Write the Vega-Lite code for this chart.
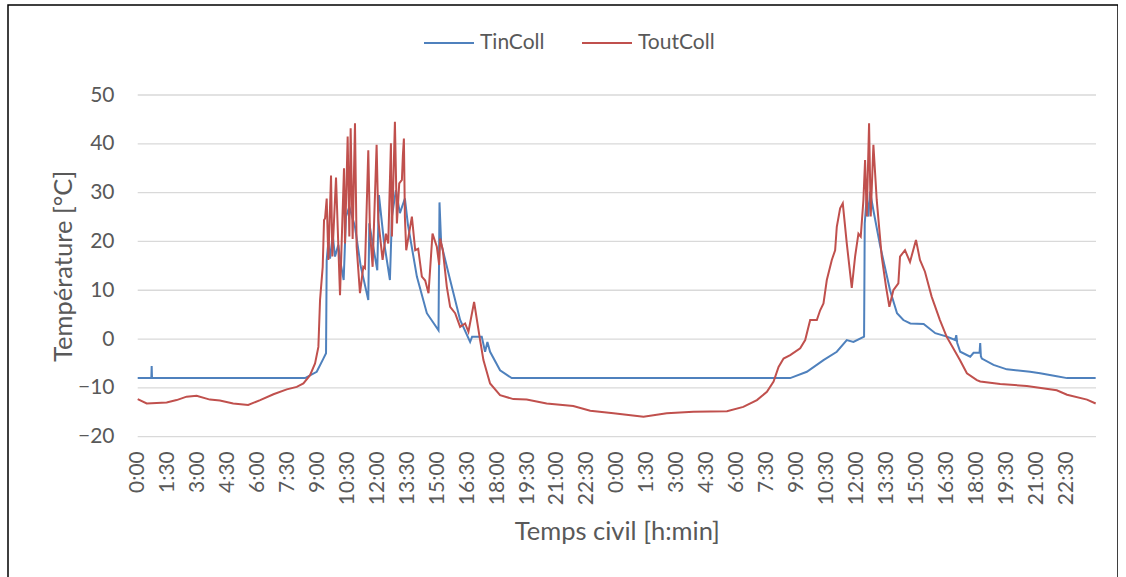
{
  "$schema": "https://vega.github.io/schema/vega-lite/v6.json",
  "autosize": {"type": "none"},
  "padding": {"left": 8, "top": 5, "right": 0, "bottom": 0},
  "width": 1110,
  "height": 575,
  "background": "white",
  "config": {
    "font": "Lato",
    "view": {"stroke": "#000000", "strokeWidth": 1.5},
    "axis": {"labelColor": "#595959", "titleColor": "#595959", "labelFont": "Lato", "titleFont": "Lato", "titleFontWeight": "normal"},
    "legend": {"labelColor": "#595959", "labelFont": "Lato"}
  },
  "datasets": {
    "series": [
      {"s":"TinColl","t":0,"v":-8.0},{"s":"TinColl","t":41,"v":-8.0},{"s":"TinColl","t":42,"v":-5.5},{"s":"TinColl","t":43,"v":-8.0},
      {"s":"TinColl","t":150,"v":-8.0},{"s":"TinColl","t":300,"v":-8.0},{"s":"TinColl","t":450,"v":-8.0},{"s":"TinColl","t":503,"v":-8.0},
      {"s":"TinColl","t":538,"v":-6.7},{"s":"TinColl","t":558,"v":-4.0},{"s":"TinColl","t":566,"v":-2.9},{"s":"TinColl","t":568,"v":16.2},
      {"s":"TinColl","t":573,"v":19.9},{"s":"TinColl","t":578,"v":16.5},{"s":"TinColl","t":586,"v":21.3},{"s":"TinColl","t":593,"v":16.9},
      {"s":"TinColl","t":603,"v":19.3},{"s":"TinColl","t":610,"v":15.5},{"s":"TinColl","t":619,"v":12.1},{"s":"TinColl","t":626,"v":25.1},
      {"s":"TinColl","t":636,"v":27.1},{"s":"TinColl","t":653,"v":23.0},{"s":"TinColl","t":670,"v":15.0},{"s":"TinColl","t":693,"v":8.0},
      {"s":"TinColl","t":696,"v":23.7},{"s":"TinColl","t":720,"v":14.1},{"s":"TinColl","t":725,"v":29.5},{"s":"TinColl","t":740,"v":20.0},
      {"s":"TinColl","t":758,"v":12.1},{"s":"TinColl","t":764,"v":25.1},{"s":"TinColl","t":776,"v":30.5},{"s":"TinColl","t":788,"v":25.8},
      {"s":"TinColl","t":803,"v":28.8},{"s":"TinColl","t":812,"v":23.5},{"s":"TinColl","t":839,"v":12.8},{"s":"TinColl","t":869,"v":5.3},
      {"s":"TinColl","t":904,"v":1.8},{"s":"TinColl","t":907,"v":28.0},{"s":"TinColl","t":912,"v":19.6},{"s":"TinColl","t":939,"v":12.1},
      {"s":"TinColl","t":969,"v":3.9},{"s":"TinColl","t":999,"v":-0.6},{"s":"TinColl","t":1005,"v":0.5},{"s":"TinColl","t":1034,"v":0.5},
      {"s":"TinColl","t":1044,"v":-2.6},{"s":"TinColl","t":1051,"v":-0.6},{"s":"TinColl","t":1059,"v":-2.6},{"s":"TinColl","t":1089,"v":-6.4},
      {"s":"TinColl","t":1124,"v":-8.0},{"s":"TinColl","t":1400,"v":-8.0},{"s":"TinColl","t":1700,"v":-8.0},{"s":"TinColl","t":1961,"v":-8.0},
      {"s":"TinColl","t":2011,"v":-6.7},{"s":"TinColl","t":2061,"v":-4.3},{"s":"TinColl","t":2101,"v":-2.6},{"s":"TinColl","t":2131,"v":-0.2},
      {"s":"TinColl","t":2151,"v":-0.6},{"s":"TinColl","t":2183,"v":0.5},{"s":"TinColl","t":2185,"v":23.7},{"s":"TinColl","t":2191,"v":29.2},
      {"s":"TinColl","t":2196,"v":25.1},{"s":"TinColl","t":2201,"v":30.2},{"s":"TinColl","t":2211,"v":26.4},{"s":"TinColl","t":2231,"v":19.2},
      {"s":"TinColl","t":2261,"v":10.0},{"s":"TinColl","t":2282,"v":5.3},{"s":"TinColl","t":2301,"v":3.9},{"s":"TinColl","t":2322,"v":3.2},
      {"s":"TinColl","t":2362,"v":3.1},{"s":"TinColl","t":2397,"v":1.2},{"s":"TinColl","t":2432,"v":0.5},{"s":"TinColl","t":2457,"v":-0.2},
      {"s":"TinColl","t":2460,"v":0.8},{"s":"TinColl","t":2463,"v":-0.8},{"s":"TinColl","t":2472,"v":-2.6},{"s":"TinColl","t":2502,"v":-3.6},
      {"s":"TinColl","t":2512,"v":-2.8},{"s":"TinColl","t":2530,"v":-2.8},{"s":"TinColl","t":2532,"v":-0.8},{"s":"TinColl","t":2534,"v":-3.5},
      {"s":"TinColl","t":2537,"v":-4.0},{"s":"TinColl","t":2572,"v":-5.3},{"s":"TinColl","t":2612,"v":-6.2},{"s":"TinColl","t":2682,"v":-6.7},
      {"s":"TinColl","t":2712,"v":-7.0},{"s":"TinColl","t":2762,"v":-7.6},{"s":"TinColl","t":2793,"v":-8.0},{"s":"TinColl","t":2879,"v":-8.0},

      {"s":"ToutColl","t":0,"v":-12.3},{"s":"ToutColl","t":27,"v":-13.2},{"s":"ToutColl","t":87,"v":-13.0},{"s":"ToutColl","t":117,"v":-12.5},
      {"s":"ToutColl","t":147,"v":-11.8},{"s":"ToutColl","t":177,"v":-11.6},{"s":"ToutColl","t":217,"v":-12.4},{"s":"ToutColl","t":247,"v":-12.6},
      {"s":"ToutColl","t":287,"v":-13.2},{"s":"ToutColl","t":332,"v":-13.5},{"s":"ToutColl","t":368,"v":-12.5},{"s":"ToutColl","t":408,"v":-11.3},
      {"s":"ToutColl","t":448,"v":-10.3},{"s":"ToutColl","t":478,"v":-9.8},{"s":"ToutColl","t":498,"v":-9.1},{"s":"ToutColl","t":518,"v":-7.4},
      {"s":"ToutColl","t":533,"v":-5.0},{"s":"ToutColl","t":543,"v":-1.6},{"s":"ToutColl","t":548,"v":8.0},{"s":"ToutColl","t":556,"v":14.8},
      {"s":"ToutColl","t":560,"v":24.4},{"s":"ToutColl","t":563,"v":24.7},{"s":"ToutColl","t":568,"v":28.8},{"s":"ToutColl","t":573,"v":16.2},
      {"s":"ToutColl","t":581,"v":33.5},{"s":"ToutColl","t":585,"v":16.9},{"s":"ToutColl","t":596,"v":33.1},{"s":"ToutColl","t":608,"v":9.0},
      {"s":"ToutColl","t":620,"v":35.0},{"s":"ToutColl","t":623,"v":19.6},{"s":"ToutColl","t":631,"v":41.5},{"s":"ToutColl","t":636,"v":21.0},
      {"s":"ToutColl","t":640,"v":43.2},{"s":"ToutColl","t":646,"v":20.5},{"s":"ToutColl","t":653,"v":44.2},{"s":"ToutColl","t":658,"v":18.9},
      {"s":"ToutColl","t":668,"v":9.4},{"s":"ToutColl","t":678,"v":14.8},{"s":"ToutColl","t":683,"v":14.5},{"s":"ToutColl","t":693,"v":38.7},
      {"s":"ToutColl","t":698,"v":22.0},{"s":"ToutColl","t":706,"v":14.8},{"s":"ToutColl","t":718,"v":39.8},{"s":"ToutColl","t":723,"v":24.4},
      {"s":"ToutColl","t":736,"v":16.2},{"s":"ToutColl","t":746,"v":21.6},{"s":"ToutColl","t":753,"v":19.6},{"s":"ToutColl","t":761,"v":40.1},
      {"s":"ToutColl","t":764,"v":21.0},{"s":"ToutColl","t":773,"v":44.5},{"s":"ToutColl","t":779,"v":23.7},{"s":"ToutColl","t":786,"v":31.9},
      {"s":"ToutColl","t":794,"v":32.6},{"s":"ToutColl","t":797,"v":37.7},{"s":"ToutColl","t":800,"v":41.1},{"s":"ToutColl","t":803,"v":25.0},
      {"s":"ToutColl","t":807,"v":18.2},{"s":"ToutColl","t":824,"v":25.1},{"s":"ToutColl","t":834,"v":18.2},{"s":"ToutColl","t":843,"v":18.5},
      {"s":"ToutColl","t":854,"v":12.8},{"s":"ToutColl","t":864,"v":12.0},{"s":"ToutColl","t":874,"v":9.4},{"s":"ToutColl","t":886,"v":21.6},
      {"s":"ToutColl","t":899,"v":18.9},{"s":"ToutColl","t":906,"v":15.2},{"s":"ToutColl","t":909,"v":20.6},{"s":"ToutColl","t":917,"v":18.2},
      {"s":"ToutColl","t":929,"v":10.7},{"s":"ToutColl","t":939,"v":6.6},{"s":"ToutColl","t":954,"v":5.3},{"s":"ToutColl","t":969,"v":2.5},
      {"s":"ToutColl","t":984,"v":3.2},{"s":"ToutColl","t":994,"v":1.5},{"s":"ToutColl","t":1011,"v":7.6},{"s":"ToutColl","t":1029,"v":-0.2},
      {"s":"ToutColl","t":1039,"v":-4.3},{"s":"ToutColl","t":1059,"v":-9.1},{"s":"ToutColl","t":1089,"v":-11.5},{"s":"ToutColl","t":1129,"v":-12.3},
      {"s":"ToutColl","t":1169,"v":-12.4},{"s":"ToutColl","t":1229,"v":-13.2},{"s":"ToutColl","t":1309,"v":-13.7},{"s":"ToutColl","t":1360,"v":-14.7},
      {"s":"ToutColl","t":1430,"v":-15.2},{"s":"ToutColl","t":1520,"v":-15.9},{"s":"ToutColl","t":1590,"v":-15.2},{"s":"ToutColl","t":1670,"v":-14.9},
      {"s":"ToutColl","t":1771,"v":-14.8},{"s":"ToutColl","t":1820,"v":-13.9},{"s":"ToutColl","t":1861,"v":-12.5},{"s":"ToutColl","t":1891,"v":-10.8},
      {"s":"ToutColl","t":1911,"v":-8.7},{"s":"ToutColl","t":1926,"v":-5.7},{"s":"ToutColl","t":1941,"v":-4.0},{"s":"ToutColl","t":1961,"v":-3.3},
      {"s":"ToutColl","t":1991,"v":-1.9},{"s":"ToutColl","t":2006,"v":-0.2},{"s":"ToutColl","t":2021,"v":3.9},{"s":"ToutColl","t":2041,"v":3.9},
      {"s":"ToutColl","t":2051,"v":5.9},{"s":"ToutColl","t":2061,"v":7.3},{"s":"ToutColl","t":2071,"v":12.1},{"s":"ToutColl","t":2086,"v":16.2},
      {"s":"ToutColl","t":2096,"v":18.2},{"s":"ToutColl","t":2101,"v":23.0},{"s":"ToutColl","t":2111,"v":26.8},{"s":"ToutColl","t":2119,"v":27.8},
      {"s":"ToutColl","t":2131,"v":19.6},{"s":"ToutColl","t":2146,"v":10.5},{"s":"ToutColl","t":2156,"v":16.9},{"s":"ToutColl","t":2166,"v":21.6},
      {"s":"ToutColl","t":2173,"v":21.0},{"s":"ToutColl","t":2181,"v":28.5},{"s":"ToutColl","t":2186,"v":36.7},{"s":"ToutColl","t":2191,"v":25.1},
      {"s":"ToutColl","t":2198,"v":44.2},{"s":"ToutColl","t":2203,"v":25.1},{"s":"ToutColl","t":2211,"v":39.8},{"s":"ToutColl","t":2221,"v":28.5},
      {"s":"ToutColl","t":2236,"v":16.9},{"s":"ToutColl","t":2249,"v":10.7},{"s":"ToutColl","t":2259,"v":6.6},{"s":"ToutColl","t":2271,"v":10.0},
      {"s":"ToutColl","t":2286,"v":11.4},{"s":"ToutColl","t":2291,"v":16.9},{"s":"ToutColl","t":2306,"v":18.2},{"s":"ToutColl","t":2321,"v":15.8},
      {"s":"ToutColl","t":2339,"v":20.3},{"s":"ToutColl","t":2351,"v":16.2},{"s":"ToutColl","t":2366,"v":13.8},{"s":"ToutColl","t":2386,"v":8.7},
      {"s":"ToutColl","t":2411,"v":3.9},{"s":"ToutColl","t":2431,"v":0.5},{"s":"ToutColl","t":2451,"v":-1.9},{"s":"ToutColl","t":2471,"v":-4.3},
      {"s":"ToutColl","t":2492,"v":-7.0},{"s":"ToutColl","t":2522,"v":-8.4},{"s":"ToutColl","t":2532,"v":-8.7},{"s":"ToutColl","t":2592,"v":-9.2},
      {"s":"ToutColl","t":2672,"v":-9.6},{"s":"ToutColl","t":2762,"v":-10.5},{"s":"ToutColl","t":2793,"v":-11.4},{"s":"ToutColl","t":2853,"v":-12.4},
      {"s":"ToutColl","t":2879,"v":-13.2}
    ],
    "grid": [{"v":-20},{"v":-10},{"v":0},{"v":10},{"v":20},{"v":30},{"v":40},{"v":50}]
  },
  "encoding": {
    "y": {
      "field": "v", "type": "quantitative",
      "scale": {"domain": [-20, 50], "range": [431.7, 90], "nice": false, "zero": false},
      "axis": {
        "title": "Température [°C]",
        "values": [-20,-10,0,10,20,30,40,50],
        "labelFontSize": 21,
        "labelPadding": 2,
        "ticks": false,
        "tickSize": 0,
        "domain": false,
        "grid": false,
        "offset": -108,
        "titleFontSize": 25.5,
        "titleBaseline": "alphabetic",
        "titleX": -45
      }
    }
  },
  "layer": [
    {
      "data": {"name": "grid"},
      "mark": {"type": "rule", "color": "#D9D9D9", "strokeWidth": 1.3},
      "encoding": {
        "x": {
          "datum": 0, "type": "quantitative",
          "scale": {"domain": [0, 2880], "range": [129.7, 1088], "nice": false, "zero": false},
          "axis": {
            "title": "Temps civil [h:min]",
            "values": [0,90,180,270,360,450,540,630,720,810,900,990,1080,1170,1260,1350,1440,1530,1620,1710,1800,1890,1980,2070,2160,2250,2340,2430,2520,2610,2700,2790],
            "labelExpr": "floor((datum.value % 1440) / 60) + ':' + (datum.value % 60 == 0 ? '00' : '30')",
            "labelAngle": -90,
            "labelFontSize": 21,
            "labelPadding": 14,
            "labelOverlap": false,
            "labelFlush": false,
            "ticks": false,
            "tickSize": 0,
            "domain": false,
            "grid": false,
            "offset": -143.3,
            "titleFontSize": 25.5,
            "titleBaseline": "alphabetic",
            "titleY": 103
          }
        },
        "x2": {"datum": 2880}
      }
    },
    {
      "data": {"name": "series"},
      "mark": {"type": "line", "strokeWidth": 2, "interpolate": "linear"},
      "encoding": {
        "x": {
          "field": "t", "type": "quantitative",
          "scale": {"domain": [0, 2880], "range": [129.7, 1088], "nice": false, "zero": false},
          "axis": {
            "title": "Temps civil [h:min]",
            "values": [0,90,180,270,360,450,540,630,720,810,900,990,1080,1170,1260,1350,1440,1530,1620,1710,1800,1890,1980,2070,2160,2250,2340,2430,2520,2610,2700,2790],
            "labelExpr": "floor((datum.value % 1440) / 60) + ':' + (datum.value % 60 == 0 ? '00' : '30')",
            "labelAngle": -90,
            "labelFontSize": 21,
            "labelPadding": 14,
            "labelOverlap": false,
            "labelFlush": false,
            "ticks": false,
            "tickSize": 0,
            "domain": false,
            "grid": false,
            "offset": -143.3,
            "titleFontSize": 25.5,
            "titleBaseline": "alphabetic",
            "titleY": 103
          }
        },
        "color": {
          "field": "s", "type": "nominal",
          "scale": {"domain": ["TinColl", "ToutColl"], "range": ["#4F81BD", "#C0504D"]},
          "legend": {
            "title": null,
            "orient": "none",
            "direction": "horizontal",
            "legendX": 415,
            "legendY": 12,
            "symbolType": "stroke",
            "symbolSize": 2500,
            "symbolStrokeWidth": 2,
            "labelFontSize": 21,
            "labelOffset": 5,
            "columnPadding": 33,
            "padding": 0
          }
        }
      }
    }
  ]
}
